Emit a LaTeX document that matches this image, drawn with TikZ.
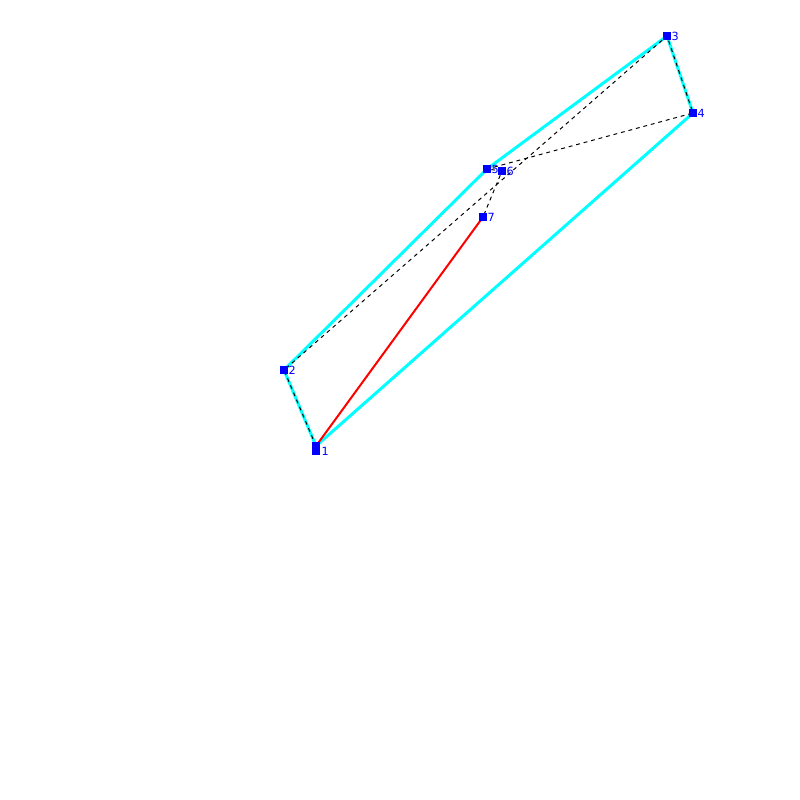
\documentclass[tikz,border=0pt]{standalone}
\usepackage{fontspec}
\setsansfont{DejaVu Sans}
\usetikzlibrary{positioning}
\definecolor{ptblue}{RGB}{0,0,255}
\definecolor{hullcyan}{RGB}{0,255,255}
\tikzset{
  vtx/.style={fill=ptblue,inner sep=0pt,minimum size=2pt,draw=none},
  lbl/.style={text=ptblue,font=\fontsize{3.2}{4}\selectfont\sffamily,inner sep=0pt,anchor=west},
  hull/.style={draw=hullcyan,line width=0.85pt,line join=round},
  path/.style={draw=black,line width=0.28pt,dash pattern=on 1.1pt off 1.1pt},
}
\begin{document}
\begin{tikzpicture}[x=0.01cm,y=-0.01cm]
    \useasboundingbox (0,0) rectangle (800,800);
    \node[vtx] (p1) at (316,446) {};
    \node[vtx] (p1b) at (316,451) {};
    \node[vtx] (p2) at (284,370) {};
    \node[vtx] (p3) at (667,36) {};
    \node[vtx] (p4) at (693,113) {};
    \node[vtx] (p5) at (487,169) {};
    \node[vtx] (p6) at (502,171) {};
    \node[vtx] (p7) at (483,217) {};

    % hull
    \draw[hull] (p1.center) -- (p2.center) -- (p5.center) -- (p3.center) -- (p4.center) -- cycle;

    % visiting order
    \draw[path] (p1.center) -- (p2.center) -- (p3.center) -- (p4.center) -- (p5.center) -- (p6.center) -- (p7.center);
    \draw[red,line width=0.57pt] (p7.center) -- (p1.center);

    \node[vtx] at (p1) {};
    \node[vtx] at (p1b) {};
    \node[vtx] at (p2) {};
    \node[vtx] at (p3) {};
    \node[vtx] at (p4) {};
    \node[vtx] at (p5) {};
    \node[vtx] at (p6) {};
    \node[vtx] at (p7) {};

    \node[lbl] at ([xshift=1.4pt]p1b.center) {1};
    \node[lbl] at ([xshift=1.1pt]p2.center) {2};
    \node[lbl] at ([xshift=1.1pt]p3.center) {3};
    \node[lbl] at ([xshift=1.1pt]p4.center) {4};
    \node[lbl] at ([xshift=1.1pt]p5.center) {5};
    \node[lbl] at ([xshift=1.1pt]p6.center) {6};
    \node[lbl] at ([xshift=1.1pt]p7.center) {7};
\end{tikzpicture}
\end{document}
